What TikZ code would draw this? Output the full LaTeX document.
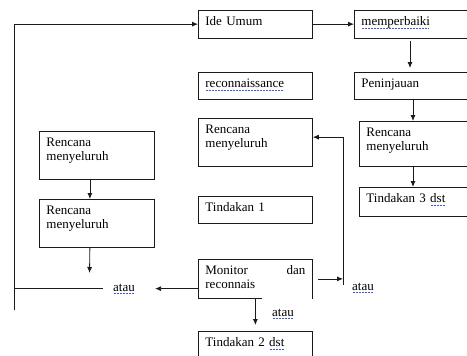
\documentclass[tikz,border=0pt]{standalone}
\usepackage{fontspec}
\setmainfont{Liberation Serif}
\usetikzlibrary{arrows.meta,calc}
\definecolor{ink}{HTML}{1A1A1A}
\definecolor{squiggle}{HTML}{3B5BDB}
\newcommand{\spellmark}[1]{\leavevmode\setbox0\hbox{#1}\rlap{\color{squiggle}\raisebox{-2.6pt}{\hbox to \wd0{\leaders\hbox to 1.5pt{\hss\rule{0.8pt}{0.6pt}\hss}\hfill}}}\box0}

\begin{document}
\begin{tikzpicture}[
  x=1pt, y=-1pt,
  font=\fontsize{13}{14}\selectfont,
  box/.style={draw=ink, line width=0.8pt, anchor=north west, align=left,
    inner xsep=7pt, inner ysep=0pt, text height=15.5pt, text width=100pt},
  oneline/.style={box, text depth=12pt},
  twoline/.style={box, text depth=32pt},
  edgebox/.style={draw=none},
  word/.style={inner sep=0pt, anchor=base west},
  arrow/.style={-{Latex[length=6pt,width=5pt]}, line width=0.8pt, draw=ink},
  link/.style={line width=0.8pt, draw=ink}
]
\useasboundingbox (0,0) rectangle (467,356);
\clip (0,0) rectangle (467,356);

% middle column
\node[oneline] (ide) at (198,10) {Ide Umum};
\node[oneline, text depth=11pt] (recon) at (198,72) {\spellmark{reconnaissance}};
\node[twoline] (rcMid) at (198,118) {Rencana\\menyeluruh};
\node[oneline, text depth=11.5pt] (tind1) at (198,196) {Tindakan 1};
\node[twoline, draw=none, text depth=23.5pt] (monitor) at (198,259) {Monitor\hfill dan\\reconnais};
\node[oneline, edgebox, text depth=16pt] (tind2) at (198,331) {Tindakan 2 \spellmark{dst}};

% right column (runs past the page edge)
\node[oneline, edgebox, text width=106pt] (perbaiki) at (354,10) {\spellmark{memperbaiki}};
\node[oneline, edgebox, text depth=11pt, text width=106pt] (tinjau) at (354,72) {Peninjauan};
\node[twoline, edgebox, text depth=29.5pt, text width=101pt] (rcRight) at (359,121) {Rencana\\menyeluruh};
\node[oneline, edgebox, text depth=13.5pt, text width=101pt] (tind3) at (359,187) {Tindakan 3 \spellmark{dst}};

% left column
\node[twoline, text width=101pt] (rcLeft1) at (39,131) {Rencana\\menyeluruh};
\node[twoline, text width=101pt] (rcLeft2) at (39,199) {Rencana\\menyeluruh};

\node[word] (atauL) at (113,291) {\spellmark{atau}};
\node[word] (atauR) at (352,290) {\spellmark{atau}};
\node[word] (atauB) at (272,316) {\spellmark{atau}};

% open borders
\foreach \b in {perbaiki,tinjau,rcRight,tind3}
  \draw[link] (\b.north east) -- (\b.north west) -- (\b.south west) -- (\b.south east);
\draw[link] (tind2.south west) -- (tind2.north west) -- (tind2.north east) -- (tind2.south east);
\draw[link] ([xshift=64pt]monitor.south west) -- (monitor.south west) -- (monitor.north west)
  -- (monitor.north east) -- (monitor.south east);

\coordinate (loopEnd) at (14,310);
\coordinate (dropL) at (89.5,273);
\coordinate (riseR) at (343,285);

\draw[arrow] (ide) -- (perbaiki);
\draw[arrow, shorten <=3pt, shorten >=4pt] ([xshift=56pt]perbaiki.south west) -- ([xshift=56pt]tinjau.north west);
\draw[arrow] ([xshift=54pt]rcRight.north west |- tinjau.south) -- ([xshift=54pt]rcRight.north west);
\draw[arrow] ([xshift=54pt]rcRight.south west) -- ([xshift=54pt]tind3.north west);

\draw[arrow] ([xshift=-7pt]rcLeft1.south) -- ([xshift=-7pt]rcLeft2.north);
\draw[arrow] ([xshift=-7pt]rcLeft2.south) -- (dropL);

\draw[arrow] (loopEnd) |- (ide.west);
\draw[link] (loopEnd |- atauL.center) -- ([xshift=-10pt]atauL.west);
\draw[arrow] (monitor.west |- atauL.center) -- ([xshift=20pt]atauL.east);

\draw[arrow] ([xshift=5pt]monitor.east) -- (monitor.east -| riseR);
\draw[arrow] (riseR) |- ([yshift=5pt]rcMid.east);
\draw[arrow, shorten >=6pt] (monitor.south) -- (tind2.north);

\end{tikzpicture}
\end{document}
